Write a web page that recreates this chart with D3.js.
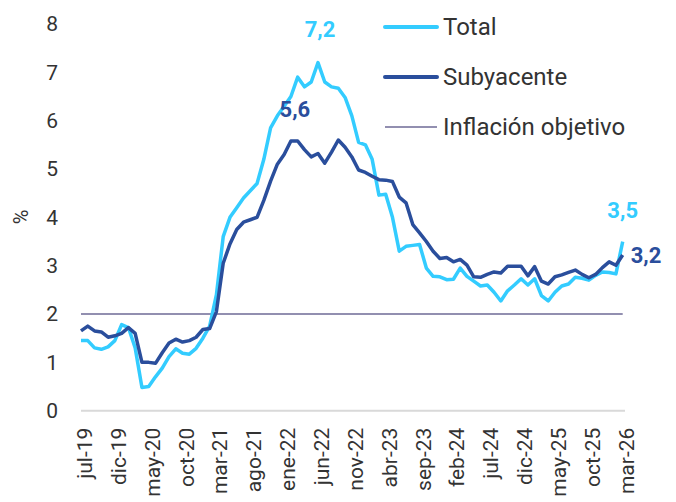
<!DOCTYPE html>
<html><head><meta charset="utf-8">
<script src="https://cdn.jsdelivr.net/npm/d3@7"></script>
<style>
html,body{margin:0;padding:0;background:#fff;}
svg{display:block;font-family:Roboto,"Noto Sans",sans-serif;}
</style></head>
<body><svg id="c" width="676" height="502"></svg>
<script>
const months = ["jul-19","ago-19","sep-19","oct-19","nov-19","dic-19","ene-20","feb-20","mar-20","abr-20","may-20","jun-20","jul-20","ago-20","sep-20","oct-20","nov-20","dic-20","ene-21","feb-21","mar-21","abr-21","may-21","jun-21","jul-21","ago-21","sep-21","oct-21","nov-21","dic-21","ene-22","feb-22","mar-22","abr-22","may-22","jun-22","jul-22","ago-22","sep-22","oct-22","nov-22","dic-22","ene-23","feb-23","mar-23","abr-23","may-23","jun-23","jul-23","ago-23","sep-23","oct-23","nov-23","dic-23","ene-24","feb-24","mar-24","abr-24","may-24","jun-24","jul-24","ago-24","sep-24","oct-24","nov-24","dic-24","ene-25","feb-25","mar-25","abr-25","may-25","jun-25","jul-25","ago-25","sep-25","oct-25","nov-25","dic-25","ene-26","feb-26","mar-26"];
const total = [1.45,1.45,1.30,1.27,1.32,1.45,1.78,1.72,1.30,0.48,0.50,0.70,0.88,1.12,1.28,1.19,1.17,1.29,1.50,1.75,2.40,3.60,4.00,4.20,4.40,4.55,4.70,5.20,5.85,6.10,6.30,6.50,6.90,6.70,6.80,7.20,6.80,6.70,6.67,6.48,6.10,5.55,5.50,5.20,4.46,4.48,4.00,3.30,3.40,3.42,3.44,2.95,2.78,2.77,2.71,2.72,2.95,2.78,2.68,2.58,2.60,2.45,2.27,2.48,2.60,2.73,2.60,2.73,2.38,2.27,2.45,2.58,2.62,2.76,2.74,2.70,2.80,2.87,2.86,2.83,3.50];
const subyacente = [1.65,1.75,1.65,1.63,1.52,1.55,1.60,1.72,1.60,1.00,1.00,0.98,1.20,1.40,1.48,1.42,1.45,1.52,1.68,1.70,2.05,3.05,3.45,3.75,3.90,3.95,4.00,4.35,4.75,5.10,5.30,5.58,5.58,5.40,5.25,5.32,5.12,5.35,5.60,5.45,5.25,4.98,4.93,4.85,4.78,4.77,4.74,4.42,4.30,3.85,3.68,3.50,3.30,3.15,3.17,3.08,3.13,3.01,2.77,2.76,2.82,2.87,2.85,2.99,2.99,2.99,2.79,2.98,2.68,2.62,2.77,2.81,2.86,2.91,2.82,2.75,2.82,2.96,3.08,3.01,3.22];
const objetivo = 2;
const yTicks = [0,1,2,3,4,5,6,7,8];
const xTickLabels = ["jul-19","dic-19","may-20","oct-20","mar-21","ago-21","ene-22","jun-22","nov-22","abr-23","sep-23","feb-24","jul-24","dic-24","may-25","oct-25","mar-26"];
const seriesNames = ["Total","Subyacente","Inflación objetivo"];
const colors = {total:"#33CCFF", sub:"#2A4E9C", obj:"#6E6A96", text:"#333333", axis:"#D9D9D9"};

const svg = d3.select("#c");
const x = d3.scalePoint().domain(months).range([81, 622.7]);
const y = d3.scaleLinear().domain([0, 8]).range([410.7, 24]);

// y axis labels
const ya = svg.append("g").attr("transform","translate(58,0)")
  .call(d3.axisLeft(y).tickValues(yTicks).tickFormat(d3.format("d")).tickSize(0).tickPadding(0));
ya.select(".domain").remove();
ya.selectAll("text").attr("fill",colors.text).style("font-size","21px").style("font-family","Roboto");

// x axis
const xa = svg.append("g").attr("transform",`translate(0,${y(0)})`)
  .call(d3.axisBottom(x).tickValues(xTickLabels).tickSize(0));
xa.select(".domain").attr("stroke",colors.axis).attr("stroke-width",2).attr("d","M81,0H625");
xa.selectAll("text")
  .attr("transform","rotate(-90)")
  .attr("text-anchor","end")
  .attr("x",-17).attr("y",0).attr("dy","0.5em")
  .attr("fill",colors.text).style("font-size","21px").style("font-family","Roboto");

// % label
svg.append("text").attr("transform",`translate(28,${217}) rotate(-90)`)
  .attr("text-anchor","middle").attr("fill",colors.text)
  .style("font-size","20px").text("%");

// target line
svg.append("line").attr("x1",x(months[0])).attr("x2",x(months[months.length-1]))
  .attr("y1",y(objetivo)).attr("y2",y(objetivo))
  .attr("stroke",colors.obj).attr("stroke-width",1.5);

const line = d3.line().x((d,i)=>x(months[i])).y(d=>y(d)).curve(d3.curveLinear);
svg.append("path").datum(total).attr("d",line).attr("fill","none")
  .attr("stroke",colors.total).attr("stroke-width",3.5).attr("stroke-linejoin","round");
svg.append("path").datum(subyacente).attr("d",line).attr("fill","none")
  .attr("stroke",colors.sub).attr("stroke-width",3.5).attr("stroke-linejoin","round");

// data labels
const fmt = v => d3.format(".1f")(v).replace(".",",");
const iMaxT = d3.maxIndex(total), iMaxS = d3.maxIndex(subyacente.slice(0,35));
const last = months.length-1;
const lab = (txt, xx, yy, col, anchor) => svg.append("text").attr("x",xx).attr("y",yy)
  .attr("text-anchor",anchor).attr("fill",col).style("font-size","22px").style("font-weight","bold").text(txt);
lab(fmt(total[iMaxT]), x(months[iMaxT])+2, y(total[iMaxT])-26, colors.total, "middle");
lab(fmt(subyacente[iMaxS]), x(months[iMaxS])+4, y(subyacente[iMaxS])-24, colors.sub, "middle");
lab(fmt(total[last]), x(months[last]), y(total[last])-24, colors.total, "middle");
lab(fmt(subyacente[last]), x(months[last])+8, y(subyacente[last])+8, colors.sub, "start");

// legend
const leg = [
  {name:seriesNames[0], color:colors.total, w:4, y:27},
  {name:seriesNames[1], color:colors.sub, w:4, y:77},
  {name:seriesNames[2], color:colors.obj, w:1.5, y:127}
];
const lg = svg.append("g");
leg.forEach(d=>{
  lg.append("line").attr("x1",385).attr("x2",437).attr("y1",d.y).attr("y2",d.y)
    .attr("stroke",d.color).attr("stroke-width",d.w).attr("stroke-linecap", d.w>2?"round":"butt");
  lg.append("text").attr("x",443).attr("y",d.y).attr("dy","0.35em")
    .attr("fill",colors.text).style("font-size","24px").text(d.name);
});
</script></body></html>
